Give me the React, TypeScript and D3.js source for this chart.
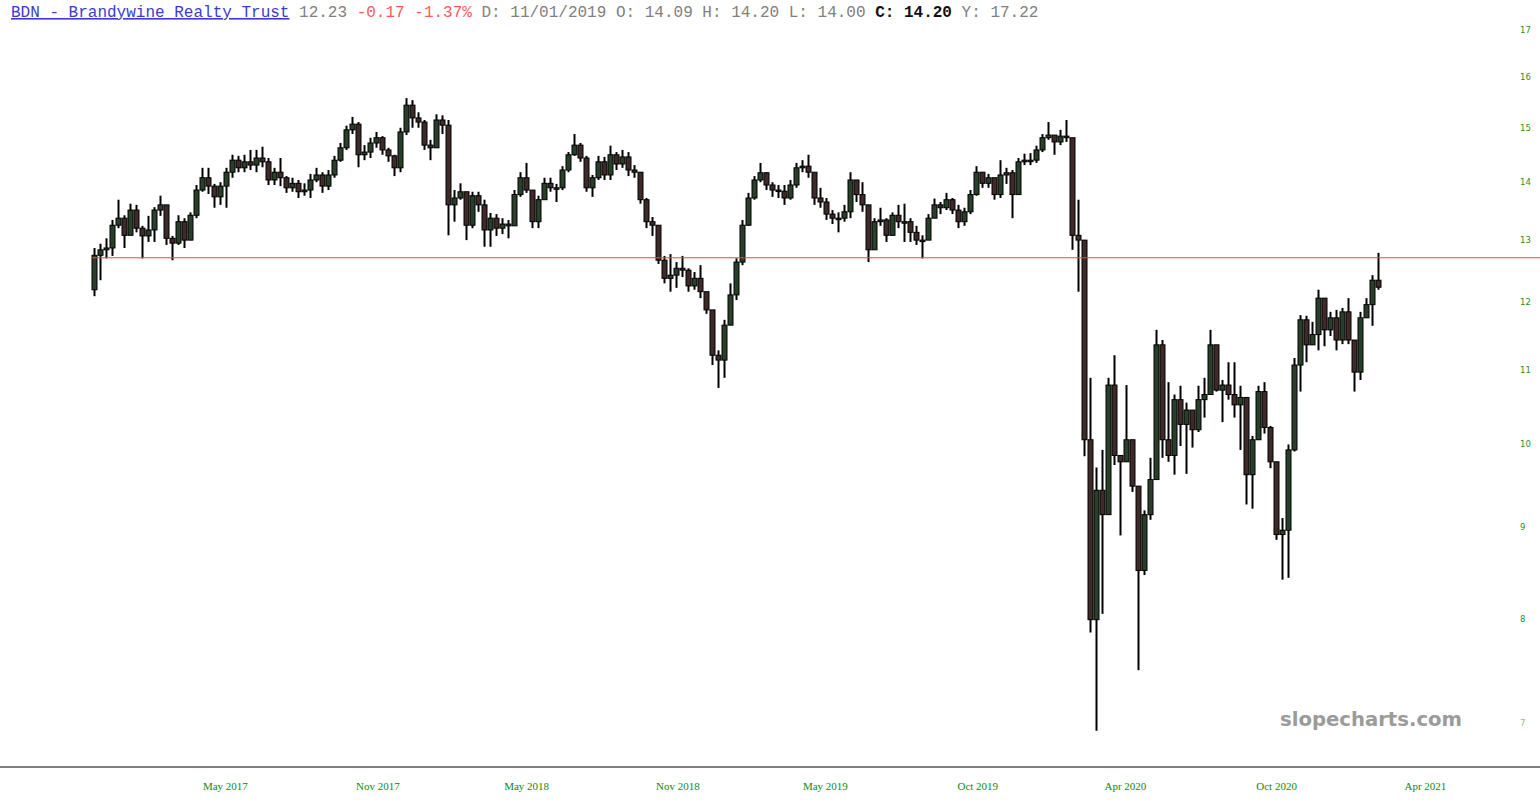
import React from "react";
import * as d3 from "d3";

// ---- data (weekly bars; each bar = 5 trading days) ----
const firstOpen = 12.19;
const barClose = [
  12.74,12.83,12.86,13.24,13.36,13.07,13.50,13.19,13.06,13.16,
  13.50,13.59,13.02,12.94,13.30,12.99,13.41,13.85,14.07,13.92,
  13.73,13.92,14.17,14.39,14.25,14.36,14.30,14.43,14.36,14.03,
  14.17,14.07,13.89,13.97,13.82,13.85,14.03,14.12,13.92,14.12,
  14.39,14.62,14.96,15.07,14.49,14.54,14.71,14.81,14.58,14.47,
  14.25,14.92,15.44,15.19,15.11,14.67,14.62,15.15,15.05,13.59,
  13.71,13.82,13.24,13.75,13.59,13.16,13.36,13.19,13.26,13.23,
  13.77,14.07,13.85,13.30,13.68,13.97,13.89,13.89,14.21,14.49,
  14.67,14.43,13.89,14.07,14.36,14.12,14.49,14.32,14.45,14.21,
  14.17,13.68,13.30,13.24,12.66,12.37,12.42,12.53,12.50,12.25,
  12.37,12.16,11.88,11.21,11.14,11.65,12.11,12.63,13.24,13.71,
  14.03,14.16,13.94,13.85,13.83,13.71,13.94,14.25,14.28,14.17,
  13.71,13.64,13.43,13.36,13.36,13.47,14.03,13.77,13.59,12.83,
  13.30,13.33,13.07,13.41,13.30,13.30,13.12,12.99,12.99,13.36,
  13.59,13.54,13.68,13.50,13.30,13.47,13.77,14.17,13.97,14.07,
  13.77,14.12,14.16,13.77,14.36,14.39,14.39,14.58,14.81,14.86,
  14.73,14.84,14.81,13.07,12.99,10.06,7.99,9.43,9.14,10.79,
  9.86,9.78,10.06,9.48,8.51,9.14,9.56,11.36,10.06,9.86,
  10.59,10.26,10.45,10.19,10.59,10.66,11.36,10.72,10.79,10.66,
  10.52,10.62,9.62,10.06,10.70,10.22,9.78,8.91,8.96,9.93,
  11.07,11.73,11.36,11.51,12.06,11.58,11.76,11.43,11.85,11.43,
  10.97,11.76,11.96,12.34,12.23,
];
const barHigh = [
  12.86,12.93,13.02,13.33,13.68,13.41,13.61,13.59,13.23,13.40,
  13.55,13.75,13.54,13.06,13.41,13.36,13.46,13.94,14.25,14.25,
  13.96,13.99,14.25,14.49,14.47,14.49,14.58,14.58,14.64,14.43,
  14.25,14.43,14.10,14.07,14.03,13.97,14.14,14.25,14.17,14.21,
  14.47,14.71,15.04,15.21,15.11,14.67,14.81,14.92,14.84,14.62,
  14.49,15.00,15.58,15.54,15.30,15.15,14.77,15.26,15.24,15.15,
  13.85,13.97,13.82,13.82,13.82,13.68,13.45,13.43,13.36,13.33,
  13.85,14.17,14.34,13.85,13.75,14.07,14.07,13.96,14.28,14.54,
  14.88,14.71,14.47,14.12,14.47,14.45,14.66,14.54,14.58,14.54,
  14.30,14.17,13.71,13.38,13.24,12.73,12.76,12.63,12.73,12.53,
  12.47,12.58,12.14,11.76,11.28,11.73,12.29,12.69,13.33,13.80,
  14.10,14.34,14.17,13.99,13.94,13.94,14.03,14.34,14.39,14.49,
  14.07,13.89,13.71,13.50,13.46,13.59,14.17,13.99,13.99,13.59,
  13.36,13.54,13.36,13.46,13.59,13.61,13.36,13.23,13.07,13.43,
  13.70,13.64,13.80,13.71,13.59,13.54,13.85,14.28,14.17,14.14,
  14.07,14.39,14.25,14.21,14.43,14.51,14.52,14.66,14.88,15.11,
  14.84,14.96,15.15,14.77,13.68,12.99,10.89,9.71,9.93,10.89,
  11.21,9.86,10.79,10.06,9.48,9.19,9.83,11.58,11.43,10.83,
  10.66,10.78,10.55,10.39,10.78,10.89,11.58,11.36,10.86,11.11,
  11.11,10.78,10.62,10.11,10.78,10.83,10.24,9.78,9.10,10.00,
  11.17,11.80,11.79,11.70,12.19,12.06,11.85,11.88,11.91,12.06,
  11.43,11.85,12.06,12.42,12.78,
];
const barLow = [
  12.09,12.34,12.69,12.73,13.19,12.86,13.12,13.12,12.69,12.96,
  12.96,13.40,12.91,12.66,12.91,12.86,12.99,13.36,13.82,13.78,
  13.54,13.59,13.54,14.07,14.17,14.17,14.21,14.17,14.26,13.94,
  13.94,13.92,13.80,13.82,13.71,13.75,13.71,13.99,13.80,13.85,
  14.07,14.36,14.58,14.88,14.26,14.39,14.43,14.62,14.49,14.36,
  14.10,14.17,14.86,15.00,15.00,14.58,14.39,14.62,14.88,13.07,
  13.30,13.68,12.99,13.19,13.47,12.88,12.88,13.06,13.09,13.02,
  13.30,13.73,13.80,13.19,13.19,13.71,13.82,13.64,13.85,14.17,
  14.47,14.36,13.82,13.73,14.03,14.03,14.03,14.21,14.25,14.10,
  14.07,13.61,13.19,13.06,12.60,12.29,12.16,12.22,12.39,12.16,
  12.19,12.06,11.82,11.07,10.75,10.89,11.65,12.03,12.58,13.23,
  13.68,13.99,13.85,13.73,13.71,13.59,13.68,13.89,14.17,14.07,
  13.59,13.54,13.33,13.26,13.12,13.30,13.36,13.64,13.47,12.63,
  12.91,13.23,12.96,13.07,13.19,12.96,12.96,12.91,12.69,12.99,
  13.38,13.43,13.50,13.43,13.19,13.23,13.43,13.75,13.89,13.89,
  13.68,13.71,13.96,13.36,13.82,14.30,14.30,14.34,14.54,14.77,
  14.49,14.67,14.73,12.83,12.16,9.85,7.86,6.93,8.05,9.14,
  9.74,8.90,9.78,9.41,7.49,8.46,9.08,9.56,9.83,9.78,
  9.62,9.98,9.63,9.96,10.16,10.35,10.67,10.70,10.29,10.59,
  10.35,9.93,9.26,9.21,10.06,10.14,9.70,8.85,8.41,8.43,
  9.91,10.70,11.11,11.36,11.28,11.34,11.49,11.28,11.37,11.37,
  10.70,10.86,11.76,11.64,12.19,
];
const daysPerBar = 5;

const yTicks = [7, 8, 9, 10, 11, 12, 13, 14, 15, 16, 17];
const xTickLabels = ["May 2017", "Nov 2017", "May 2018", "Nov 2018", "May 2019", "Oct 2019", "Apr 2020", "Oct 2020", "Apr 2021"];
const xTickDays = [112, 239, 363, 489, 612, 739, 862, 988, 1112];
const levelLine = 12.7;

const header = {
  title: "BDN - Brandywine Realty Trust",
  last: "12.23",
  change: "-0.17",
  pct: "-1.37%",
  date: "11/01/2019",
  o: "14.09",
  h: "14.20",
  l: "14.00",
  c: "14.20",
  y: "17.22",
};

const W = 1540;
const H = 807;

export default function App() {
  const x = d3.scaleLinear().domain([0, 1200]).range([91, 91 + 1440]);
  const y = d3.scaleLog().domain([7, 17]).range([723, 30]);

  const bars = barClose.map((c, i) => ({
    o: i === 0 ? firstOpen : barClose[i - 1],
    c,
    h: barHigh[i],
    l: barLow[i],
    day: i * daysPerBar + daysPerBar / 2,
  }));

  const bodyW = 5;

  return (
    <svg
      width={W}
      height={H}
      style={{ position: "absolute", left: 0, top: 0, background: "#fff" }}
    >
      <rect x={0} y={0} width={W} height={H} fill="#fff" />
      {/* header */}
      <text x={11} y={17} fontFamily="'Liberation Mono', monospace" fontSize={16} xmlSpace="preserve">
        <tspan fill="#3b3bd4" textDecoration="underline">{header.title}</tspan>
        <tspan fill="#808080">{" " + header.last}</tspan>
        <tspan fill="#ff5a5a">{" " + header.change + " " + header.pct}</tspan>
        <tspan fill="#808080">{" D: " + header.date + " O: " + header.o + " H: " + header.h + " L: " + header.l + " "}</tspan>
        <tspan fill="#111" fontWeight="bold">{"C: " + header.c}</tspan>
        <tspan fill="#808080">{" Y: " + header.y}</tspan>
      </text>

      {/* y axis labels */}
      {yTicks.map((t) => (
        <text
          key={t}
          x={1520}
          y={y(t) + 3}
          fontFamily="'DejaVu Sans', Verdana, sans-serif"
          fontSize={8.5}
          fill={t === 7 ? "#7fbf7f" : "#1f8f1f"}
        >
          {t}
        </text>
      ))}

      {/* candles */}
      <g>
        {bars.map((b, i) => {
          const cx = Math.round(x(b.day)) + 0.5;
          const up = b.c >= b.o;
          const y0 = y(Math.max(b.o, b.c));
          const y1 = y(Math.min(b.o, b.c));
          return (
            <g key={i}>
              <line x1={cx} x2={cx} y1={y(b.h)} y2={y(b.l)} stroke="#000" strokeWidth={2} />
              <rect
                x={cx - bodyW / 2}
                y={y0}
                width={bodyW}
                height={Math.max(1.5, y1 - y0)}
                fill={up ? "#2a3f2a" : "#3f2a2a"}
                stroke="#000"
                strokeWidth={1}
              />
            </g>
          );
        })}
      </g>

      {/* horizontal level line */}
      <line x1={x(0)} x2={W} y1={y(levelLine)} y2={y(levelLine)} stroke="#ff3b3b" strokeWidth={1.2} />

      {/* watermark */}
      <text
        x={1280}
        y={726}
        fontFamily="'DejaVu Sans', Verdana, sans-serif"
        fontWeight="bold"
        fontSize={19}
        fill="#9b9b9b"
        textLength={182}
        lengthAdjust="spacingAndGlyphs"
      >
        slopecharts.com
      </text>

      {/* bottom axis */}
      <line x1={0} x2={W} y1={767} y2={767} stroke="#808080" strokeWidth={2} />
      {xTickLabels.map((lab, i) => (
        <text
          key={lab}
          x={x(xTickDays[i])}
          y={790}
          textAnchor="middle"
          fontFamily="'Liberation Serif', 'Times New Roman', serif"
          fontSize={11}
          fill="#118811"
        >
          {lab}
        </text>
      ))}
    </svg>
  );
}
